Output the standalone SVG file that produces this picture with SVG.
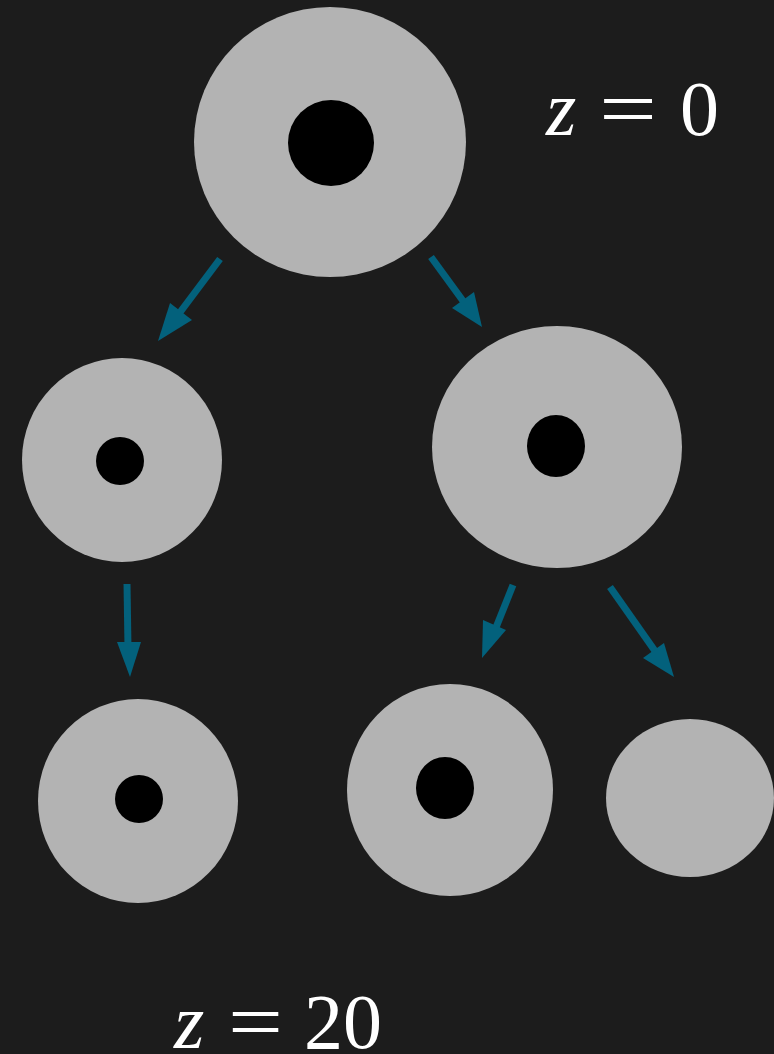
<svg xmlns="http://www.w3.org/2000/svg" width="774" height="1054" viewBox="0 0 774 1054">
  <style>
    .outer { fill: #b3b3b3; }
    .core { fill: #000000; }
    .edge { stroke: #03617c; stroke-width: 7; fill: none; }
    .head { fill: #03617c; }
    .math { fill: #ffffff; font-family: "Liberation Serif", "DejaVu Serif", serif; font-size: 78px; }
    .var { font-style: italic; }
  </style>
  <rect width="774" height="1054" fill="#1c1c1c"/>

  <g id="node-root">
    <ellipse class="outer" cx="330" cy="142" rx="136" ry="135"/>
    <circle class="core" cx="331" cy="143" r="43"/>
  </g>
  <g id="node-left">
    <ellipse class="outer" cx="122" cy="460" rx="100" ry="102"/>
    <circle class="core" cx="120" cy="461" r="24"/>
  </g>
  <g id="node-right">
    <ellipse class="outer" cx="557" cy="447" rx="125" ry="121"/>
    <ellipse class="core" cx="556" cy="446" rx="29" ry="31"/>
  </g>
  <g id="node-left-child">
    <ellipse class="outer" cx="138" cy="801" rx="100" ry="102"/>
    <circle class="core" cx="139" cy="799" r="24"/>
  </g>
  <g id="node-right-child-a">
    <ellipse class="outer" cx="450" cy="790" rx="103" ry="106"/>
    <ellipse class="core" cx="445" cy="788" rx="29" ry="31"/>
  </g>
  <g id="node-right-child-b">
    <ellipse class="outer" cx="690" cy="798" rx="84" ry="79"/>
  </g>

  <g id="connectors">
    <!-- root to left -->
    <line class="edge" x1="220" y1="259" x2="178" y2="315"/>
    <polygon class="head" points="158,341 170,303 192,320"/>
    <!-- root to right -->
    <line class="edge" x1="431" y1="257" x2="466" y2="305"/>
    <polygon class="head" points="482,327 452,308 474,292"/>
    <!-- left to left child -->
    <line class="edge" x1="127" y1="584" x2="128" y2="648"/>
    <polygon class="head" points="130,677 117,642 141,642"/>
    <!-- right to child a -->
    <line class="edge" x1="513" y1="585" x2="495" y2="630"/>
    <polygon class="head" points="482,658 483,620 506,630"/>
    <!-- right to child b -->
    <line class="edge" x1="610" y1="587" x2="655" y2="651"/>
    <polygon class="head" points="674,677 643,658 664,643"/>
  </g>

  <g id="labels">
    <g id="label-top">
      <text class="math var" x="546" y="135">z</text>
      <text class="math" x="599" y="135" textLength="58" lengthAdjust="spacingAndGlyphs">=</text>
      <text class="math" x="680" y="135">0</text>
    </g>
    <g id="label-bottom">
      <text class="math var" x="174" y="1048">z</text>
      <text class="math" x="228" y="1048" textLength="55" lengthAdjust="spacingAndGlyphs">=</text>
      <text class="math" x="304" y="1048">20</text>
    </g>
  </g>
</svg>
